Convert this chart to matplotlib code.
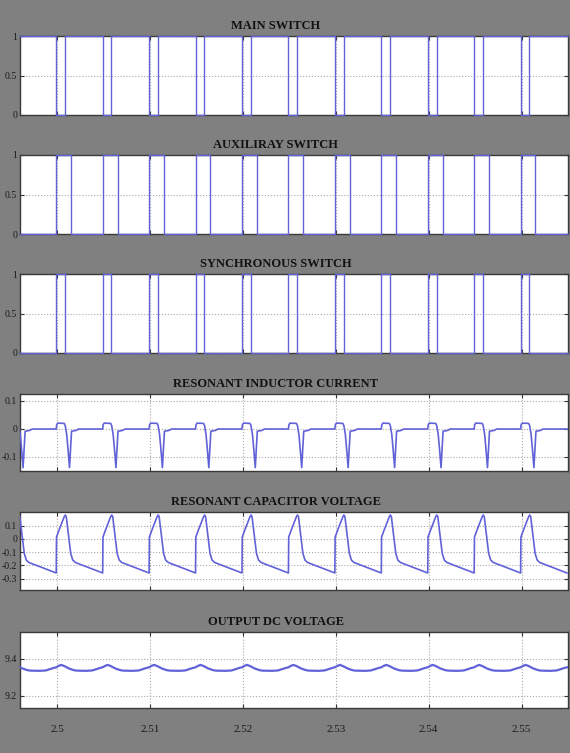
import matplotlib
matplotlib.use('Agg')
import matplotlib.pyplot as plt
import numpy as np

# ---------------- data ----------------
x_range = (2.496, 2.555)
x_ticks = [2.50, 2.51, 2.52, 2.53, 2.54, 2.55]
x_tick_labels = ['2.5', '2.51', '2.52', '2.53', '2.54', '2.55']

titles = ['MAIN SWITCH', 'AUXILIRAY SWITCH', 'SYNCHRONOUS SWITCH',
          'RESONANT INDUCTOR CURRENT', 'RESONANT CAPACITOR VOLTAGE',
          'OUTPUT DC VOLTAGE']

# switching instants (s)
pulse_starts = [2.4999, 2.5049, 2.5099, 2.5149, 2.5199, 2.5249,
                2.5299, 2.5349, 2.5399, 2.5449, 2.5499]
main_off_width = 0.00095
aux_on_width = 0.0016
sync_on_width = 0.00095

# analog waveforms: one switching cycle, offsets from each cycle start (ms)
analog_starts = [2.4949, 2.4999, 2.5049, 2.5099, 2.5149, 2.5199, 2.5249,
                 2.5299, 2.5349, 2.5399, 2.5449, 2.5499]

il_offsets_ms = [0.0, 0.05, 0.16, 0.86, 0.97, 1.13, 1.29, 1.43, 1.54, 1.65, 2.15, 2.42, 4.99]
il_values = [0.0, 0.015, 0.021, 0.020, 0.012, -0.02, -0.08, -0.138, -0.07, -0.008, -0.005, 0.0, 0.0]

vc_offsets_ms = [0.0, 0.03, 0.32, 0.65, 0.86, 0.97, 1.08, 1.29, 1.56, 1.78, 2.05, 2.48, 4.98]
vc_values = [-0.258, 0.014, 0.07, 0.13, 0.168, 0.181, 0.17, 0.05, -0.11, -0.16, -0.178, -0.19, -0.258]

vo_offsets_ms = [0.0, 0.27, 0.54, 0.86, 1.40, 1.94, 2.26, 3.23, 3.88, 4.31, 4.74, 4.99]
vo_values = [9.355, 9.363, 9.368, 9.362, 9.348, 9.339, 9.337, 9.336, 9.338, 9.345, 9.352, 9.355]

ylims = [(0, 1), (0, 1), (0, 1), (-0.15, 0.125), (-0.387, 0.204), (9.135, 9.546)]
yticks = [[0, 0.5, 1], [0, 0.5, 1], [0, 0.5, 1], [-0.1, 0, 0.1],
          [-0.3, -0.2, -0.1, 0, 0.1], [9.2, 9.4]]
ytick_labels = [['0', '0.5', '1'], ['0', '0.5', '1'], ['0', '0.5', '1'],
                ['-0.1', '0', '0.1'], ['-0.3', '-0.2', '-0.1', '0', '0.1'],
                ['9.2', '9.4']]

# ---------------- build waveforms ----------------
def pulse_train(starts, width, base, active):
    t = [x_range[0]]
    v = [base]
    for s in starts:
        t += [s, s, s + width, s + width]
        v += [base, active, active, base]
    t.append(x_range[1])
    v.append(base)
    return np.array(t), np.array(v)

def tile(starts, offs_ms, vals):
    t, v = [], []
    for s in starts:
        t.extend(s + np.array(offs_ms) / 1000.0)
        v.extend(vals)
    return np.array(t), np.array(v)

main_t, main_v = pulse_train(pulse_starts, main_off_width, 1, 0)
aux_t, aux_v = pulse_train(pulse_starts, aux_on_width, 0, 1)
sync_t, sync_v = pulse_train(pulse_starts, sync_on_width, 0, 1)
il_t, il_v = tile(analog_starts, il_offsets_ms, il_values)
vc_t, vc_v = tile(analog_starts, vc_offsets_ms, vc_values)
vo_t, vo_v = tile(analog_starts, vo_offsets_ms, vo_values)

series = [(main_t, main_v), (aux_t, aux_v), (sync_t, sync_v),
          (il_t, il_v), (vc_t, vc_v), (vo_t, vo_v)]

# ---------------- figure ----------------
W, H = 570, 753
fig = plt.figure(figsize=(W / 100, H / 100), dpi=100)
fig.patch.set_facecolor('#808080')

# axes boxes in pixels: (top, bottom)
boxes = [(36, 115), (155, 234), (274, 353), (394, 471), (512, 590), (632, 708)]
left_px, right_px = 20, 568

line_color = '#6262d8'
widths = [1.0, 1.0, 1.0, 1.2, 1.2, 1.6]
for i, ((top, bot), (t, v)) in enumerate(zip(boxes, series)):
    ax = fig.add_axes([left_px / W, (H - bot) / H, (right_px - left_px) / W, (bot - top) / H])
    ax.set_facecolor('white')
    switch = i < 3
    ax.plot(t, v, color=line_color, lw=widths[i], clip_on=not switch, zorder=5)
    ax.set_xlim(*x_range)
    ax.set_ylim(*ylims[i])
    ax.set_xticks(x_ticks)
    ax.set_yticks(yticks[i])
    ax.set_yticklabels(ytick_labels[i], family='Liberation Serif', fontsize=7, color='#1a1a1a')
    ax.grid(True, linestyle=':', color='#a8a8a8', lw=0.8)
    ax.tick_params(direction='in', length=3, width=0.8, color='#333333',
                   left=True, right=True, top=True, bottom=True, pad=2)
    if i < 5:
        ax.tick_params(labelbottom=False)
    else:
        ax.set_xticklabels(x_tick_labels, family='Liberation Serif', fontsize=8, color='#1a1a1a')
        ax.tick_params(axis='x', pad=12)
    for sp in ax.spines.values():
        sp.set_color('#3a3a3a')
        sp.set_linewidth(1.0)
    ax.set_title(titles[i], x=0.467, pad=5, fontsize=9, fontweight='bold',
                 family='Liberation Serif', color='#111111')

fig.savefig('out.png', dpi=100, facecolor=fig.get_facecolor())
